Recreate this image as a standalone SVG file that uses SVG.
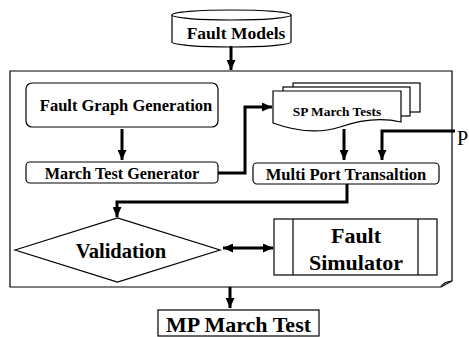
<svg xmlns="http://www.w3.org/2000/svg" width="469" height="337" viewBox="0 0 469 337">
<style>
.box{fill:#fff;stroke:#000;stroke-width:1.2}
.t{font-family:"Liberation Serif","Times New Roman",serif;font-weight:bold;fill:#000;text-anchor:middle}
.c{fill:none;stroke:#000;stroke-width:3}
</style>
<defs>
<marker id="ah" markerUnits="userSpaceOnUse" markerWidth="10" markerHeight="9" refX="10" refY="4.5" orient="auto-start-reverse">
<path d="M0,0 L10,4.5 L0,9 Z" fill="#000"/>
</marker>
</defs>
<rect width="469" height="337" fill="#fff"/>
<g id="frame">
<path class="box" d="M10,71 H452 V281 L441,287 H10 Z"/>
<path d="M441,287 Q443,282 452,281" fill="none" stroke="#000" stroke-width="1.2"/>
</g>
<g id="fault-models">
<path class="box" d="M172,15 V42 A59.5,5 0 0 0 291,42 V15"/>
<ellipse class="box" cx="231.5" cy="15" rx="59.5" ry="5"/>
<text class="t" x="236" y="39" font-size="17.5">Fault Models</text>
</g>
<g id="fault-graph">
<rect class="box" x="26" y="83" width="192" height="44" rx="6"/>
<text class="t" x="126" y="111" font-size="16.5">Fault Graph Generation</text>
</g>
<g id="march-gen">
<rect class="box" x="26" y="162" width="192" height="21" rx="4"/>
<text class="t" x="122" y="179" font-size="16.2">March Test Generator</text>
</g>
<g id="sp-march">
<rect class="box" x="293" y="83" width="127" height="29"/>
<rect class="box" x="283" y="87" width="127" height="29"/>
<path class="box" d="M273,91 H401 V122 C380,117 360,120 340,127 C318,134 295,131 273,123 Z"/>
<text class="t" x="337" y="116" font-size="13.4">SP March Tests</text>
</g>
<g id="multi-port">
<rect class="box" x="253" y="163" width="186" height="21" rx="4"/>
<text class="t" x="346" y="180" font-size="16.6">Multi Port Transaltion</text>
</g>
<g id="validation">
<path class="box" d="M15,250 L117.5,218 L220,250 L117.5,282 Z"/>
<text class="t" x="121" y="258" font-size="20.5">Validation</text>
</g>
<g id="fault-sim">
<rect class="box" x="274" y="219" width="163" height="56"/>
<line x1="293" y1="219" x2="293" y2="275" stroke="#000" stroke-width="1.2"/>
<line x1="418" y1="219" x2="418" y2="275" stroke="#000" stroke-width="1.2"/>
<text class="t" x="356" y="243" font-size="22">Fault</text>
<text class="t" x="356" y="270" font-size="22">Simulator</text>
</g>
<g id="mp-march">
<rect class="box" x="158" y="310" width="161" height="26"/>
<text class="t" x="238.5" y="332" font-size="22">MP March Test</text>
</g>
<g id="p-input">
<text x="457" y="145" font-family="Liberation Serif,'Times New Roman',serif" font-size="20" fill="#000">P</text>
</g>
<g id="connectors">
<line class="c" x1="231" y1="46" x2="231" y2="70" marker-end="url(#ah)"/>
<line class="c" x1="122" y1="129" x2="122" y2="160" marker-end="url(#ah)"/>
<polyline class="c" points="218,173 245,173 245,107 272,107" marker-end="url(#ah)"/>
<line class="c" x1="344" y1="129" x2="344" y2="160" marker-end="url(#ah)"/>
<polyline class="c" points="455,131 382,131 382,160" marker-end="url(#ah)"/>
<polyline class="c" points="347,184 347,202 117,202 117,217" marker-end="url(#ah)"/>
<line class="c" x1="223" y1="248" x2="273" y2="248" stroke-width="2.5" marker-start="url(#ah)" marker-end="url(#ah)"/>
<line class="c" x1="230" y1="287" x2="230" y2="308" marker-end="url(#ah)"/>
</g>
</svg>
